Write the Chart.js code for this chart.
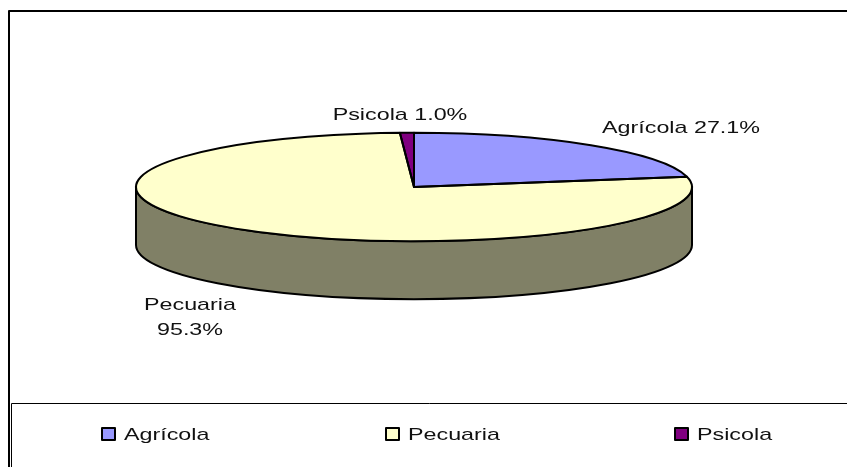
<!DOCTYPE html>
<html lang="es">
<head>
<meta charset="utf-8">
<title>Agrícola, Pecuaria, Psicola</title>
<script src="https://cdn.jsdelivr.net/npm/chart.js@4/dist/chart.umd.min.js"></script>
<style>
    html, body { margin: 0; padding: 0; background: #fff; overflow: hidden; }
    canvas { display: block; }
</style>
</head>
<body>
<canvas id="pieChart" width="847" height="467"></canvas>
<script>
// 1. Data
const categories = ["Agrícola", "Pecuaria", "Psicola"];
const values = [27.1, 95.3, 1.0];
const sliceColors = ["#9999ff", "#ffffcc", "#800080"];

// 2. Layout of the fake 3D pie
const RADIUS = 278;
const SQUASH = 0.195;      // ry / rx
const DEPTH = 58;
const FONT = '17px "Liberation Sans"';
const TEXT_STRETCH = 1.37; // the original text is wider than it is tall

// label text lines with centre x and baseline y
const dataLabels = [
    { lines: [`${categories[0]} ${values[0].toFixed(1)}%`], x: 681, y: [133] },
    { lines: [categories[1], `${values[1].toFixed(1)}%`], x: 190, y: [310, 335] },
    { lines: [`${categories[2]} ${values[2].toFixed(1)}%`], x: 400, y: [120] }
];
const legendBoxX = [102, 386, 675];

function stretchedText(ctx, text, x, y, align) {
    ctx.save();
    ctx.translate(x, y);
    ctx.scale(TEXT_STRETCH, 1);
    ctx.textAlign = align;
    ctx.textBaseline = 'alphabetic';
    ctx.font = FONT;
    ctx.fillStyle = '#111';
    ctx.fillText(text, 0, 0);
    ctx.restore();
}

function squash(ctx, arc) {
    ctx.translate(arc.x, arc.y);
    ctx.scale(1, SQUASH);
    ctx.translate(-arc.x, -arc.y);
}

// half of each channel, the way the side of a 3D slice is shaded
function darker(hex) {
    const n = parseInt(hex.slice(1), 16);
    const c = [n >> 16, (n >> 8) & 255, n & 255].map(v => Math.round(v * 0.5));
    return `rgb(${c[0]},${c[1]},${c[2]})`;
}

const pie3d = {
    id: 'pie3d',
    beforeDatasetsDraw(chart) {
        const ctx = chart.ctx;
        const arcs = chart.getDatasetMeta(0).data;

        // side wall: only the part of each slice facing the viewer
        arcs.forEach((arc, i) => {
            const from = Math.max(arc.startAngle, 0);
            const to = Math.min(arc.endAngle, Math.PI);
            if (to <= from) return;
            const ry = arc.outerRadius * SQUASH;
            ctx.beginPath();
            ctx.ellipse(arc.x, arc.y, arc.outerRadius, ry, 0, from, to);
            ctx.ellipse(arc.x, arc.y + DEPTH, arc.outerRadius, ry, 0, to, from, true);
            ctx.closePath();
            ctx.fillStyle = darker(sliceColors[i]);
            ctx.fill();
            ctx.strokeStyle = '#000';
            ctx.lineWidth = 2;
            ctx.lineJoin = 'round';
            ctx.stroke();
        });

        ctx.save();
        squash(ctx, arcs[0]);
    },
    afterDatasetsDraw(chart) {
        const ctx = chart.ctx;
        ctx.restore();

        // slice outlines: path built squashed, stroked unsquashed to keep the pen even
        chart.getDatasetMeta(0).data.forEach(arc => {
            ctx.save();
            squash(ctx, arc);
            ctx.beginPath();
            ctx.moveTo(arc.x, arc.y);
            ctx.arc(arc.x, arc.y, arc.outerRadius, arc.startAngle, arc.endAngle);
            ctx.closePath();
            ctx.restore();
            ctx.strokeStyle = '#000';
            ctx.lineWidth = 2;
            ctx.lineJoin = 'round';
            ctx.stroke();
        });

        // data labels
        dataLabels.forEach(label => {
            label.lines.forEach((line, i) => stretchedText(ctx, line, label.x, label.y[i], 'center'));
        });

        // chart frame, open on the right as in the original
        ctx.strokeStyle = '#000';
        ctx.lineWidth = 2;
        ctx.beginPath();
        ctx.moveTo(847, 11);
        ctx.lineTo(9, 11);
        ctx.lineTo(9, 467);
        ctx.stroke();

        // legend box
        ctx.lineWidth = 1;
        ctx.beginPath();
        ctx.moveTo(847, 403.5);
        ctx.lineTo(11.5, 403.5);
        ctx.lineTo(11.5, 467);
        ctx.stroke();

        // legend entries
        categories.forEach((name, i) => {
            ctx.fillStyle = sliceColors[i];
            ctx.strokeStyle = '#000';
            ctx.lineWidth = 2;
            ctx.fillRect(legendBoxX[i], 428, 13, 12);
            ctx.strokeRect(legendBoxX[i], 428, 13, 12);
            stretchedText(ctx, name, legendBoxX[i] + 22, 440, 'left');
        });
    }
};

// 3. Chart
new Chart(document.getElementById('pieChart'), {
    type: 'pie',
    data: {
        labels: categories,
        datasets: [{
            data: values,
            backgroundColor: sliceColors,
            borderWidth: 0,
            clip: false
        }]
    },
    options: {
        responsive: false,
        animation: false,
        radius: RADIUS,
        layout: { padding: { right: 19, bottom: 93 } },
        plugins: {
            legend: { display: false },
            tooltip: { enabled: false }
        }
    },
    plugins: [pie3d]
});
</script>
</body>
</html>
